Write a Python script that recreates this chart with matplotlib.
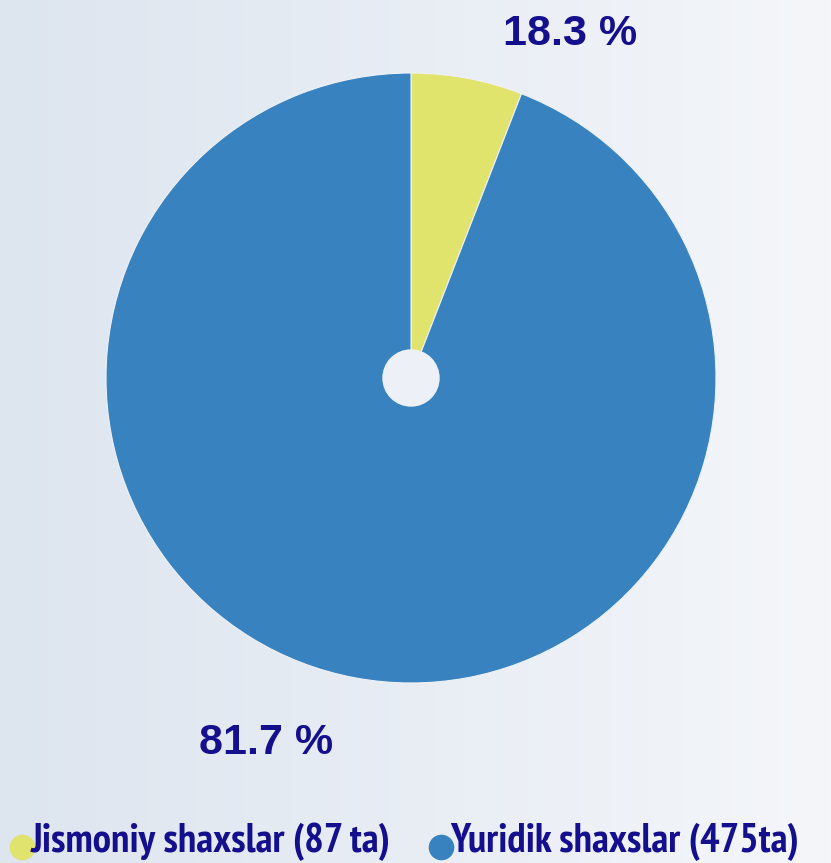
import matplotlib.pyplot as plt
import numpy as np
from matplotlib.patches import Circle

# ulushlar rasmdagi burchakdan o'qilgan (sarlavhalar asl matn)
categories = ['Jismoniy shaxslar (87 ta)', 'Yuridik shaxslar (475ta)']
shares = [5.9, 94.1]
pct_labels = ['18.3 %', '81.7 %']
colors = ['#e0e36c', '#3882c0']
navy = '#140f8c'

W, H = 831, 863
fig = plt.figure(figsize=(W / 100, H / 100), dpi=100)
ax = fig.add_axes([0, 0, 1, 1])

# fon gradienti
grad = np.linspace(0, 1, 256).reshape(1, -1)
c1 = np.array([0xdd, 0xe5, 0xef]) / 255
c2 = np.array([0xf4, 0xf6, 0xfa]) / 255
img = c1[None, None, :] * (1 - grad[..., None]) + c2[None, None, :] * grad[..., None]
ax.imshow(img, extent=[0, W, 0, H], aspect='auto', zorder=0)

cx, cy, r = 411, H - 378, 305
ax.pie(shares, colors=colors, startangle=90, counterclock=False,
       center=(cx, cy), radius=r, frame=True,
       wedgeprops=dict(linewidth=0.8, edgecolor='#eef2f8'))
ax.set_xlim(0, W)
ax.set_ylim(0, H)
ax.set_aspect('auto')
ax.axis('off')
ax.add_patch(Circle((cx, cy), 28, color='#edf1f7', zorder=5))

ax.text(570, H - 34, pct_labels[0], fontsize=31, fontweight='bold', color=navy,
        family='Liberation Sans', ha='center', va='center')
ax.text(266, H - 743, pct_labels[1], fontsize=31, fontweight='bold', color=navy,
        family='Liberation Sans', ha='center', va='center')

# legenda
leg_x = [22, 441]
for x, lab, col in zip(leg_x, categories, colors):
    ax.scatter([x], [H - 847], s=340, color=col, zorder=6, linewidths=0)
    ax.text(x + 9, H - 842, lab, fontsize=29.5, fontweight='bold', color=navy,
            family=['PT Sans Narrow', 'DejaVu Sans'], ha='left', va='center', zorder=7)

fig.savefig('out.png', dpi=100)
